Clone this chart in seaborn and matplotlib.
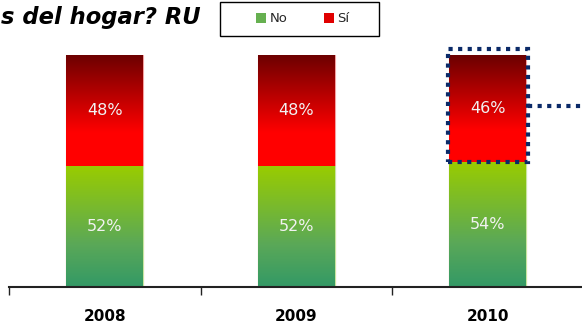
import numpy as np
import pandas as pd
import matplotlib
matplotlib.use('Agg')
import matplotlib.pyplot as plt
import seaborn as sns
from matplotlib.patches import Rectangle, Patch
from matplotlib.colors import LinearSegmentedColormap

years = ['2008', '2009', '2010']
no_vals = [52, 52, 54]
si_vals = [48, 48, 46]
series_names = ['No', 'Sí']
title_text = 's del hogar? RU'

df = pd.DataFrame({'year': years, 'No': no_vals, 'Si': si_vals})
df['total'] = df['No'] + df['Si']

sns.set_style('white')
plt.rcParams['font.family'] = ['DejaVu Sans']

fig = plt.figure(figsize=(5.82, 3.29), dpi=100)
ax = fig.add_axes([9 / 582, 42 / 329, 574.5 / 582, 232 / 329])

red_base = '#ff0000'
green_base = '#99cc00'
sns.barplot(data=df, x='year', y='total', color=red_base, width=0.4, ax=ax,
            saturation=1, edgecolor='#f4a0a0', linewidth=0.8)
sns.barplot(data=df, x='year', y='No', color=green_base, width=0.4, ax=ax,
            saturation=1, edgecolor='#c8e6a0', linewidth=0.8)

red_cmap = LinearSegmentedColormap.from_list('r', [(0, '#ff0000'), (0.3, '#ff0000'), (1, '#6b0000')])
green_cmap = LinearSegmentedColormap.from_list('g', [(0, '#339966'), (0.35, '#5aa858'), (1, '#99cc00')])

ax.set_xlim(-0.5, 2.5)
ax.set_ylim(0, 100)

grad = np.linspace(0, 1, 256).reshape(-1, 1)
n = len(years)
for i, p in enumerate(ax.patches):
    x0, y0 = p.get_x(), p.get_y()
    w, h = p.get_width(), p.get_height()
    if i < n:
        # red gradient only above the green part
        cmap = red_cmap
        ext = [x0, x0 + w, no_vals[i], y0 + h]
    else:
        cmap = green_cmap
        ext = [x0, x0 + w, y0, y0 + h]
    im = ax.imshow(grad, cmap=cmap, extent=ext, origin='lower', aspect='auto', zorder=p.get_zorder() + 0.1)
    im.set_clip_path(p)

ax.set_xlim(-0.5, 2.5)
ax.set_ylim(0, 100)

for i in range(n):
    ax.text(i, no_vals[i] / 2, f'{no_vals[i]}%', ha='center', va='center',
            color='#f2f2f2', fontsize=11.5, zorder=10)
    ax.text(i, no_vals[i] + si_vals[i] / 2, f'{si_vals[i]}%', ha='center', va='center',
            color='#f2f2f2', fontsize=11.5, zorder=10)

# dotted highlight box on 2010
navy = '#0b2a68'
box = Rectangle((2 - 0.21, 54), 0.42, 48.6, fill=False, edgecolor=navy, lw=3,
                linestyle=(0, (1, 1.3)), clip_on=False, zorder=12)
ax.add_patch(box)
ax.plot([2.21, 2.55], [78, 78], color=navy, lw=3, linestyle=(0, (1, 1.3)),
        clip_on=False, zorder=12)

sns.despine(ax=ax, left=True, top=True, right=True)
ax.spines['bottom'].set_color('#222222')
ax.spines['bottom'].set_linewidth(1.5)
ax.set_yticks([])
ax.set_xlabel('')
ax.set_ylabel('')
ax.set_xticks(range(n))
ax.set_xticklabels(years, fontweight='bold', fontsize=11, color='black')
ax.set_xticks([-0.5, 0.5, 1.5, 2.5], minor=True)
ax.tick_params(axis='x', which='major', length=0, pad=16)
ax.tick_params(axis='x', which='minor', length=6, width=1, color='#222222', direction='out', bottom=True)

# legend frame drawn separately so the box matches the reference size
fig.patches.append(Rectangle((220 / 582, 1 - 36 / 329), 159 / 582, 34 / 329,
                             transform=fig.transFigure, fill=False,
                             edgecolor='black', lw=1))
handles = [Patch(facecolor='#66b050', edgecolor='none'), Patch(facecolor='#e00000', edgecolor='none')]
leg = fig.legend(handles, series_names, ncol=2, loc='center',
                 bbox_to_anchor=(303 / 582, 1 - 19 / 329),
                 fontsize=9.5, frameon=False, handlelength=0.7, handleheight=0.7,
                 handletextpad=0.3, columnspacing=2.8, borderaxespad=0)

fig.text(201 / 582, 1 - 24 / 329, title_text, ha='right', va='baseline',
         fontsize=16.3, fontweight='bold', fontstyle='italic', color='black')

fig.savefig('out.png', dpi=100)
